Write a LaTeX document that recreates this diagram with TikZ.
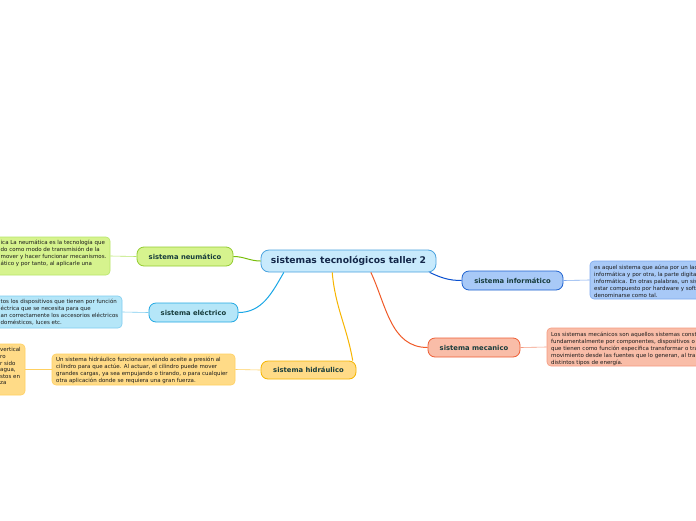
\documentclass[tikz,border=0pt]{standalone}
\usepackage{fontspec}
\setmainfont{DejaVu Sans}
\definecolor{cenF}{HTML}{C8EAFC}\definecolor{cenB}{HTML}{4AA3DF}
\definecolor{neuF}{HTML}{D6F38E}\definecolor{neuB}{HTML}{94CC32}\definecolor{neuL}{HTML}{78BE0A}\definecolor{neuT}{HTML}{B8E66A}
\definecolor{eleF}{HTML}{B5E6F8}\definecolor{eleB}{HTML}{22A8E2}\definecolor{eleL}{HTML}{1AA7E6}\definecolor{eleT}{HTML}{7FCDF0}
\definecolor{hidF}{HTML}{FFDB87}\definecolor{hidB}{HTML}{F5B400}\definecolor{hidL}{HTML}{F7B500}\definecolor{hidT}{HTML}{FFD060}
\definecolor{infF}{HTML}{A8C9F7}\definecolor{infB}{HTML}{1E62D0}\definecolor{infL}{HTML}{0A50D0}\definecolor{infT}{HTML}{7DA9EE}
\definecolor{mecF}{HTML}{F9BDA8}\definecolor{mecB}{HTML}{EE5F36}\definecolor{mecL}{HTML}{F05A28}\definecolor{mecT}{HTML}{F49A80}
\definecolor{navy}{HTML}{14284A}\definecolor{teal}{HTML}{173C3C}\definecolor{dtxt}{HTML}{1A1A1A}
\tikzset{
  central/.style={draw=cenB, fill=cenF, line width=0.8pt, rounded corners=8pt, minimum width=175pt, minimum height=22pt, inner sep=0pt, font=\fontsize{9.2}{10}\selectfont\bfseries, text=navy},
  topic/.style={line width=0.8pt, rounded corners=7pt, minimum height=19pt, inner sep=0pt, font=\fontsize{6.8}{8}\selectfont\bfseries, text=teal},
  detail/.style={line width=0.6pt, rounded corners=4pt, inner sep=0pt},
  dtext/.style={anchor=north west, inner sep=0pt, align=left, text=dtxt, font=\fontsize{5.5}{7}\selectfont},
  link/.style={line width=1pt},
  sublink/.style={line width=0.6pt},
}
\begin{document}
\begin{tikzpicture}[x=1pt,y=-1pt]
\useasboundingbox (0,0) rectangle (696,520);
\fill[white] (0,0) rectangle (696,520);
\clip (0,0) rectangle (696,520);

% central
\node[central] (cen) at (348.5,261) {sistemas tecnológicos taller 2};

% topics
\node[topic, draw=neuB, fill=neuF, minimum width=96pt] (neu) at (185,256.5) {sistema neumático};
\node[topic, draw=eleB, fill=eleF, minimum width=89pt] (ele) at (193.5,312.5) {sistema eléctrico};
\node[topic, draw=hidB, fill=hidF, minimum width=95pt, minimum height=18pt] (hid) at (308.5,370) {sistema hidráulico};
\node[topic, draw=infB, fill=infF, minimum width=101pt] (inf) at (512.5,280.5) {sistema informático};
\node[topic, draw=mecB, fill=mecF, minimum width=92pt] (mec) at (474,347.5) {sistema mecanico};

% detail boxes
\node[detail, draw=neuT, fill=neuF, minimum width=130pt, minimum height=38pt] (neuD) at (45,256) {};
\node[detail, draw=eleT, fill=eleF, minimum width=142pt, minimum height=32pt] (eleD) at (51,312) {};
\node[detail, draw=hidT, fill=hidF, minimum width=183pt, minimum height=31pt] (hidD) at (143.5,369.5) {};
\node[detail, draw=hidT, fill=hidF, minimum width=45pt, minimum height=51pt] (hid2) at (2.5,369.5) {};
\node[detail, draw=infT, fill=infF, minimum width=150pt, minimum height=38pt] (infD) at (665,280) {};
\node[detail, draw=mecT, fill=mecF, minimum width=190pt, minimum height=38pt] (mecD) at (642,347) {};

% detail texts
\node[dtext] (neuX) at (0.5,239.5) {ica La neumática es la tecnología que\\do como modo de transmisión de la\\mover y hacer funcionar mecanismos.\\ático y por tanto, al aplicarle una};
\node[dtext] (eleX) at (0.5,298.5) {tos los dispositivos que tienen por función\\éctrica que se necesita para que\\an correctamente los accesorios eléctricos\\domésticos, luces etc.};
\node[dtext] (hidX) at (56,357) {Un sistema hidráulico funciona enviando aceite a presión al\\cilindro para que actúe. Al actuar, el cilindro puede mover\\grandes cargas, ya sea empujando o tirando, o para cualquier\\otra aplicación donde se requiera una gran fuerza.};
\node[dtext, font=\fontsize{5.5}{6.6}\selectfont] (hid2X) at (0,347.5) {vertical\\ro\\r sido\\agua,\\stos en\\za};
\node[dtext] (infX) at (594,264.5) {es aquel sistema que aúna por un lado\\informática y por otra, la parte digital\\informática. En otras palabras, un sistema\\estar compuesto por hardware y software\\denominarse como tal.};
\node[dtext] (mecX) at (551,331.5) {Los sistemas mecánicos son aquellos sistemas constituidos\\fundamentalmente por componentes, dispositivos o elementos\\que tienen como función específica transformar o transmitir\\movimiento desde las fuentes que lo generan, al transformar\\distintos tipos de energía.};

% main links
\draw[link, neuL] (cen.west) to[out=180,in=0] (neu.east);
\draw[link, eleL] (cen.190.6) to[out=240,in=0] (ele.east);
\draw[link, hidL] (cen.215.4) to[out=-85,in=100] (hid.12.2);
\draw[link, mecL] (cen.-27.1) to[out=-65,in=180] (mec.west);
\draw[link, infL] (cen.-8.5) to[out=-25,in=180] (inf.west);

% sub links
\draw[sublink, neuT] (neu.west) -- (neuD.east);
\draw[sublink, eleT] (ele.west) -- (eleD.east);
\draw[sublink, hidT] (hid.west) -- (hidD.east);
\draw[sublink, hidT] (hidD.west) -- (hid2.east);
\draw[sublink, infT] (inf.east) -- (infD.west);
\draw[sublink, mecT] (mec.east) -- (mecD.west);
\end{tikzpicture}
\end{document}
